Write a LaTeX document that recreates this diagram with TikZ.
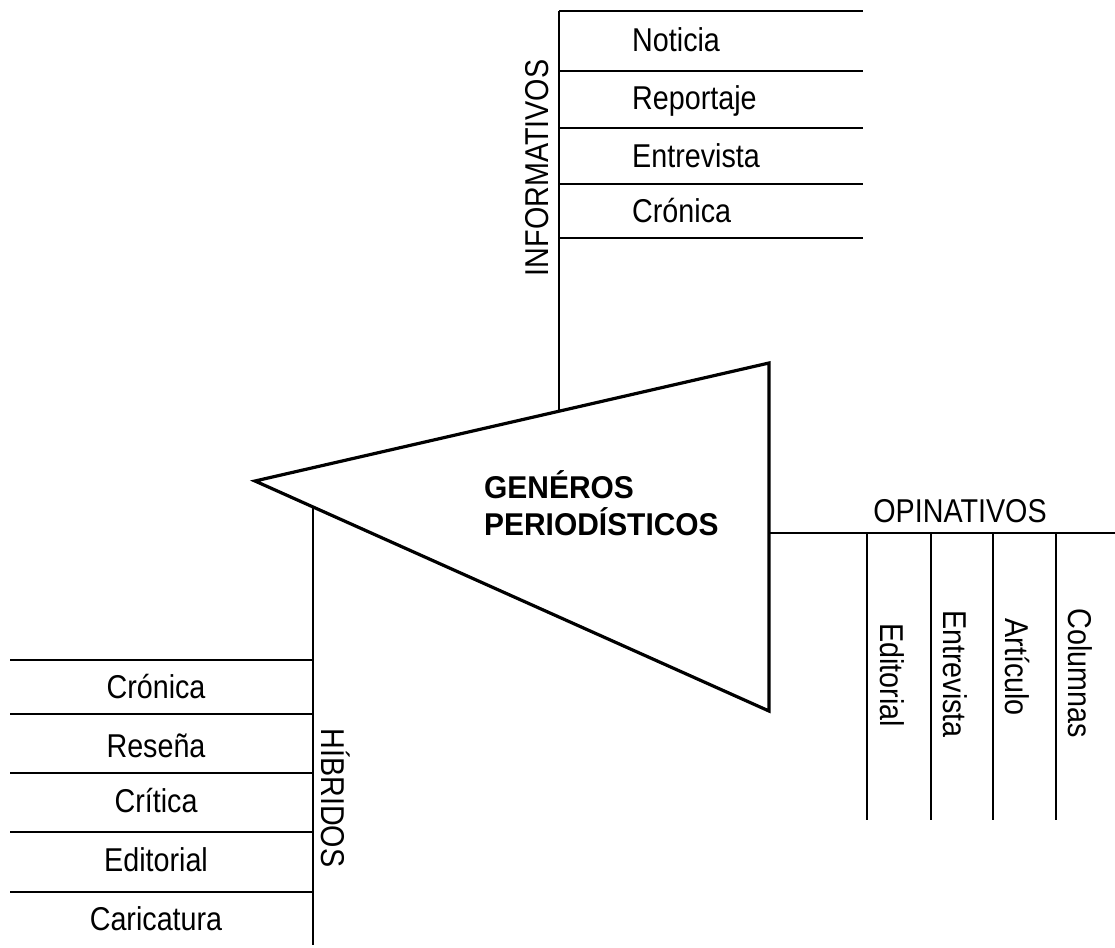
\documentclass[tikz,border=0pt]{standalone}
\usepackage{fontspec}
\setmainfont{Liberation Sans}
\newfontfamily\itemfont[FakeStretch=0.87]{Liberation Sans}
\newfontfamily\titlefont[FakeStretch=0.95]{Liberation Sans}
\usetikzlibrary{calc}
\begin{document}
\begin{tikzpicture}[x=1pt,y=-1pt,
  hl/.style={line width=2pt},
  vl/.style={line width=1.7pt},
  tri/.style={line width=3.2pt, line join=miter},
  lbl/.style={font=\itemfont\fontsize{33}{33}\selectfont, inner sep=0pt, anchor=base},
  lblw/.style={lbl, anchor=base west},
  ttl/.style={font=\titlefont\bfseries\fontsize{31.5}{31.5}\selectfont, inner sep=0pt, anchor=base west}]
\useasboundingbox (0,0) rectangle (1115,947);

% central triangle
\coordinate (tl) at (255,481);
\coordinate (tr) at (769,363);
\coordinate (br) at (769,711);
\draw[tri] (tl) -- (tr) -- (br) -- cycle;
\node[ttl] (ttl1) at (484,498) {GENÉROS};
\node[ttl] (ttl2) at (484,535) {PERIODÍSTICOS};

% INFORMATIVOS
\coordinate (ijoin) at (559,412);
\coordinate (itop) at (559,11);
\draw[vl] (ijoin) -- (itop);
\foreach \y/\n in {11/i0,71/i1,128/i2,184/i3,238/i4}{
  \coordinate (\n l) at (559,\y);
  \coordinate (\n r) at (863,\y);
  \draw[hl] (\n l) -- (\n r);
}
\node[lbl, rotate=90] (inf) at (548,168) {INFORMATIVOS};
\node[lblw] (noticia) at (632,52) {Noticia};
\node[lblw] (reportaje) at (632,110) {Reportaje};
\node[lblw] (entrev1) at (632,167) {Entrevista};
\node[lblw] (cronica1) at (632,222) {Crónica};

% OPINATIVOS
\coordinate (ojoin) at (769,533);
\coordinate (oend) at (1115,533);
\draw[hl] (ojoin) -- (oend);
\node[lbl] (opi) at (960,522) {OPINATIVOS};
\foreach \x/\n in {867/o1,931/o2,993/o3,1056/o4}{
  \coordinate (\n t) at (\x,533);
  \coordinate (\n b) at (\x,820);
  \draw[vl] (\n t) -- (\n b);
}
\node[lbl, rotate=-90] (editorial1) at (880,675) {Editorial};
\node[lbl, rotate=-90] (entrev2) at (943,674) {Entrevista};
\node[lbl, rotate=-90] (articulo) at (1005,667) {Artículo};
\node[lbl, rotate=-90] (columnas) at (1068,673) {Columnas};

% HIBRIDOS
\coordinate (hjoin) at (313,508);
\coordinate (hbot) at (313,945);
\draw[vl] (hjoin) -- (hbot);
\foreach \y/\n in {660/h1,714/h2,773/h3,832/h4,892/h5}{
  \coordinate (\n l) at (10,\y);
  \coordinate (\n r) at (313,\y);
  \draw[hl] (\n l) -- (\n r);
}
\node[lbl, rotate=-90] (hib) at (321,798) {HÍBRIDOS};
\node[lbl] (cronica2) at (156,698) {Crónica};
\node[lbl] (resena) at (156,757) {Reseña};
\node[lbl] (critica) at (156,812) {Crítica};
\node[lbl] (editorial2) at (156,871) {Editorial};
\node[lbl] (caricatura) at (156,930) {Caricatura};
\end{tikzpicture}
\end{document}
